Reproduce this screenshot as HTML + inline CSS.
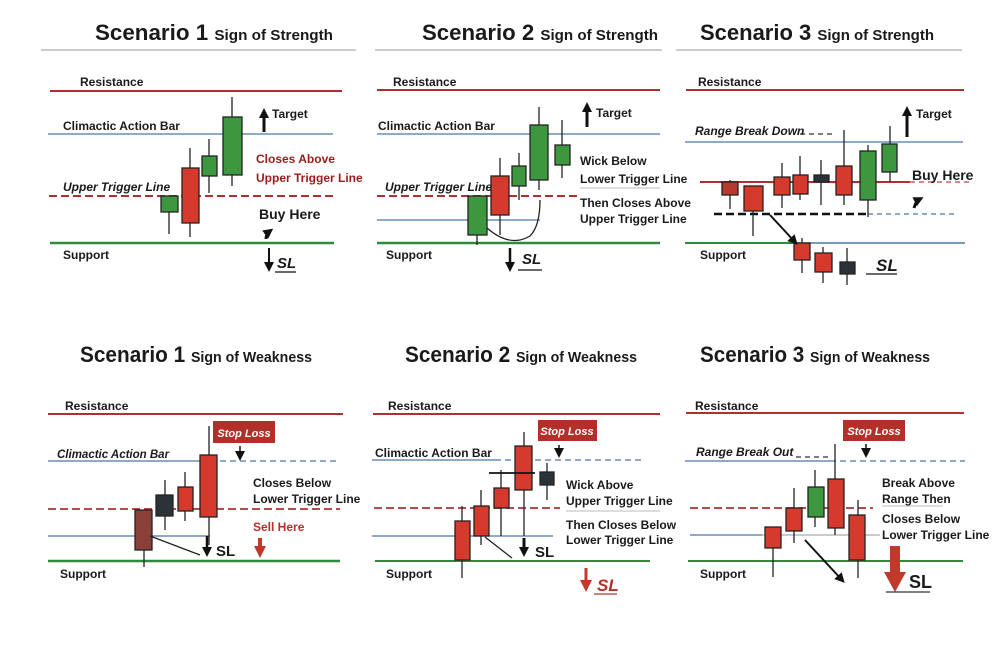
<!DOCTYPE html>
<html><head><meta charset="utf-8"><style>
html,body{margin:0;padding:0;background:#fff;}
svg{display:block;font-family:"Liberation Sans",sans-serif;}
.t{font-size:12px;fill:#1a1a1a;font-weight:bold;}
.ti{font-size:12px;fill:#1a1a1a;font-weight:bold;font-style:italic;}
.h1{font-size:22px;font-weight:bold;fill:#1a1a1a;}
.h2{font-size:15px;font-weight:bold;fill:#1a1a1a;}
</style></head><body>
<svg width="1005" height="670" viewBox="0 0 1005 670">
<defs>
<marker id="ab" markerUnits="userSpaceOnUse" markerWidth="10" markerHeight="10" refX="6" refY="5" orient="auto"><path d="M0,0 L10,5 L0,10 z" fill="#111"/></marker>
<marker id="ar" markerUnits="userSpaceOnUse" markerWidth="12" markerHeight="12" refX="6" refY="6" orient="auto"><path d="M0,0 L12,6 L0,12 z" fill="#c0392b"/></marker>
</defs>
<!-- ===== Panel 1 top ===== -->
<text x="95" y="40" class="h1" textLength="238" lengthAdjust="spacingAndGlyphs">Scenario 1 <tspan class="h2">Sign of Strength</tspan></text>
<line x1="41" y1="50" x2="356" y2="50" stroke="#b8bcc2" stroke-width="1.5"/>
<text x="80" y="86" class="t">Resistance</text>
<line x1="50" y1="91" x2="342" y2="91" stroke="#b03030" stroke-width="2"/>
<text x="63" y="130" class="t">Climactic Action Bar</text>
<line x1="48" y1="134" x2="333" y2="134" stroke="#4a78a8" stroke-width="1.3"/>
<text x="63" y="191" class="ti">Upper Trigger Line</text>
<line x1="49" y1="196" x2="334" y2="196" stroke="#b03030" stroke-width="2" stroke-dasharray="8,4"/>
<text x="63" y="259" class="t">Support</text>
<line x1="50" y1="243" x2="334" y2="243" stroke="#2e8b3e" stroke-width="2.5"/>
<g stroke="#222" stroke-width="1.3">
<line x1="169" y1="196" x2="169" y2="234"/><rect x="161" y="196" width="17" height="16" fill="#3d973f"/>
<line x1="190" y1="148" x2="190" y2="237"/><rect x="182" y="168" width="17" height="55" fill="#d63a2c"/>
<line x1="209" y1="139" x2="209" y2="193"/><rect x="202" y="156" width="15" height="20" fill="#3d973f"/>
<line x1="232" y1="97" x2="232" y2="186"/><rect x="223" y="117" width="19" height="58" fill="#3d973f"/>
</g>
<line x1="264" y1="132" x2="264" y2="112" stroke="#111" stroke-width="3" marker-end="url(#ab)"/>
<text x="272" y="118" class="t">Target</text>
<text x="256" y="163" class="t" style="fill:#9b1c1c">Closes Above</text>
<text x="256" y="182" class="t" style="fill:#9b1c1c">Upper Trigger Line</text>
<text x="259" y="219" class="t" style="font-size:14px">Buy Here</text>
<path d="M266,239 Q266,234 270,231" stroke="#111" stroke-width="3" fill="none" marker-end="url(#ab)"/>
<line x1="269" y1="248" x2="269" y2="268" stroke="#111" stroke-width="2" marker-end="url(#ab)"/>
<text x="277" y="268" class="ti" style="font-size:15px">SL</text>
<line x1="275" y1="272" x2="296" y2="272" stroke="#111" stroke-width="1.3"/>

<!-- ===== Panel 2 top ===== -->
<text x="422" y="40" class="h1" textLength="236" lengthAdjust="spacingAndGlyphs">Scenario 2 <tspan class="h2">Sign of Strength</tspan></text>
<line x1="375" y1="50" x2="662" y2="50" stroke="#b8bcc2" stroke-width="1.5"/>
<text x="393" y="86" class="t">Resistance</text>
<line x1="377" y1="90" x2="660" y2="90" stroke="#b03030" stroke-width="2"/>
<text x="378" y="130" class="t">Climactic Action Bar</text>
<line x1="377" y1="134" x2="660" y2="134" stroke="#4a78a8" stroke-width="1.3"/>
<text x="385" y="191" class="ti">Upper Trigger Line</text>
<line x1="377" y1="196" x2="580" y2="196" stroke="#b03030" stroke-width="2" stroke-dasharray="8,4"/>
<line x1="377" y1="220" x2="540" y2="220" stroke="#4a78a8" stroke-width="1.3"/>
<line x1="580" y1="188" x2="660" y2="188" stroke="#bbb" stroke-width="1"/>
<line x1="377" y1="243" x2="660" y2="243" stroke="#2e8b3e" stroke-width="2.5"/>
<text x="386" y="259" class="t">Support</text>
<g stroke="#222" stroke-width="1.3">
<line x1="477" y1="196" x2="477" y2="245"/><rect x="468" y="196" width="19" height="39" fill="#3d973f"/>
<line x1="500" y1="158" x2="500" y2="235"/><rect x="491" y="176" width="18" height="39" fill="#d63a2c"/>
<line x1="519" y1="153" x2="519" y2="200"/><rect x="512" y="166" width="14" height="20" fill="#3d973f"/>
<line x1="539" y1="107" x2="539" y2="190"/><rect x="530" y="125" width="18" height="55" fill="#3d973f"/>
<line x1="562" y1="120" x2="562" y2="178"/><rect x="555" y="145" width="15" height="20" fill="#3d973f"/>
</g>
<path d="M487,228 Q510,248 530,236 Q540,226 540,200" stroke="#222" stroke-width="1.3" fill="none"/>
<line x1="587" y1="127" x2="587" y2="106" stroke="#111" stroke-width="3" marker-end="url(#ab)"/>
<text x="596" y="117" class="t">Target</text>
<text x="580" y="165" class="t">Wick Below</text>
<text x="580" y="183" class="t">Lower Trigger Line</text>
<text x="580" y="207" class="t">Then Closes Above</text>
<text x="580" y="223" class="t">Upper Trigger Line</text>
<line x1="510" y1="248" x2="510" y2="268" stroke="#111" stroke-width="2.5" marker-end="url(#ab)"/>
<text x="522" y="264" class="ti" style="font-size:15px">SL</text>
<line x1="518" y1="270" x2="542" y2="270" stroke="#111" stroke-width="1.3"/>

<!-- ===== Panel 3 top ===== -->
<text x="700" y="40" class="h1" textLength="234" lengthAdjust="spacingAndGlyphs">Scenario 3 <tspan class="h2">Sign of Strength</tspan></text>
<line x1="676" y1="50" x2="962" y2="50" stroke="#b8bcc2" stroke-width="1.5"/>
<text x="698" y="86" class="t">Resistance</text>
<line x1="686" y1="90" x2="964" y2="90" stroke="#b03030" stroke-width="2"/>
<text x="695" y="135" class="ti" style="font-size:12px">Range Break Down</text>
<line x1="800" y1="134" x2="835" y2="134" stroke="#333" stroke-width="1.2" stroke-dasharray="5,4"/>
<line x1="685" y1="142" x2="963" y2="142" stroke="#4a78a8" stroke-width="1.3"/>
<line x1="700" y1="182" x2="910" y2="182" stroke="#b03030" stroke-width="2"/>
<line x1="910" y1="182" x2="970" y2="182" stroke="#d06060" stroke-width="1.5" stroke-dasharray="5,4"/>
<line x1="714" y1="214" x2="868" y2="214" stroke="#111" stroke-width="2.5" stroke-dasharray="8,4"/>
<line x1="868" y1="214" x2="957" y2="214" stroke="#4a78a8" stroke-width="1.2" stroke-dasharray="5,4"/>
<line x1="685" y1="243" x2="795" y2="243" stroke="#2e8b3e" stroke-width="2"/>
<line x1="795" y1="243" x2="965" y2="243" stroke="#4a78a8" stroke-width="1.5"/>
<text x="700" y="259" class="t">Support</text>
<g stroke="#222" stroke-width="1.3">
<line x1="730" y1="180" x2="730" y2="209"/><rect x="722" y="182" width="16" height="13" fill="#b8392f"/>
<line x1="753" y1="186" x2="753" y2="236"/><rect x="744" y="186" width="19" height="25" fill="#d63a2c"/>
<line x1="782" y1="163" x2="782" y2="208"/><rect x="774" y="177" width="16" height="18" fill="#d63a2c"/>
<line x1="800" y1="156" x2="800" y2="200"/><rect x="793" y="175" width="15" height="19" fill="#d63a2c"/>
<line x1="821" y1="160" x2="821" y2="205"/><rect x="814" y="175" width="15" height="7" fill="#2b3238"/>
<line x1="844" y1="130" x2="844" y2="205"/><rect x="836" y="166" width="16" height="29" fill="#d63a2c"/>
<line x1="868" y1="145" x2="868" y2="217"/><rect x="860" y="151" width="16" height="49" fill="#3d973f"/>
<line x1="890" y1="126" x2="890" y2="182"/><rect x="882" y="144" width="15" height="28" fill="#3d973f"/>
<line x1="802" y1="238" x2="802" y2="273"/><rect x="794" y="243" width="16" height="17" fill="#d63a2c"/>
<line x1="823" y1="247" x2="823" y2="283"/><rect x="815" y="253" width="17" height="19" fill="#d63a2c"/>
<line x1="847" y1="248" x2="847" y2="285"/><rect x="840" y="262" width="15" height="12" fill="#2b3238"/>
</g>
<line x1="770" y1="215" x2="795" y2="242" stroke="#111" stroke-width="2" marker-end="url(#ab)"/>
<text x="876" y="271" class="ti" style="font-size:17px">SL</text>
<line x1="866" y1="274" x2="897" y2="274" stroke="#111" stroke-width="1.3"/>
<line x1="907" y1="137" x2="907" y2="110" stroke="#111" stroke-width="3" marker-end="url(#ab)"/>
<text x="916" y="118" class="t">Target</text>
<text x="912" y="180" class="t" style="font-size:14px">Buy Here</text>
<path d="M914,208 Q916,201 920,199" stroke="#111" stroke-width="3" fill="none" marker-end="url(#ab)"/>

<!-- ===== Panel 1 bottom ===== -->
<text x="80" y="362" class="h1" textLength="232" lengthAdjust="spacingAndGlyphs">Scenario 1 <tspan class="h2">Sign of Weakness</tspan></text>
<text x="65" y="410" class="t">Resistance</text>
<line x1="48" y1="414" x2="343" y2="414" stroke="#b03030" stroke-width="2"/>
<text x="57" y="458" class="ti" style="font-size:11.5px">Climactic Action Bar</text>
<line x1="48" y1="461" x2="200" y2="461" stroke="#4a78a8" stroke-width="1.3"/>
<line x1="200" y1="461" x2="340" y2="461" stroke="#4a78a8" stroke-width="1.3" stroke-dasharray="6,4"/>
<line x1="48" y1="509" x2="340" y2="509" stroke="#b03030" stroke-width="1.8" stroke-dasharray="8,4"/>
<line x1="48" y1="536" x2="210" y2="536" stroke="#4a78a8" stroke-width="1.3"/>
<line x1="48" y1="561" x2="340" y2="561" stroke="#2e8b3e" stroke-width="2.5"/>
<text x="60" y="578" class="t">Support</text>
<g stroke="#222" stroke-width="1.3">
<line x1="144" y1="510" x2="144" y2="567"/><rect x="135" y="510" width="17" height="40" fill="#8a4038"/>
<line x1="165" y1="480" x2="165" y2="530"/><rect x="156" y="495" width="17" height="21" fill="#2b3238"/>
<line x1="185" y1="472" x2="185" y2="521"/><rect x="178" y="487" width="15" height="24" fill="#d63a2c"/>
<line x1="209" y1="426" x2="209" y2="545"/><rect x="200" y="455" width="17" height="62" fill="#d63a2c"/>
<line x1="150" y1="536" x2="200" y2="555"/>
</g>
<rect x="213" y="421" width="62" height="22" fill="#b3302a"/>
<text x="244" y="437" text-anchor="middle" class="ti" style="fill:#fff;font-size:11px">Stop Loss</text>
<line x1="240" y1="446" x2="240" y2="457" stroke="#111" stroke-width="1.5" marker-end="url(#ab)"/>
<text x="253" y="487" class="t">Closes Below</text>
<text x="253" y="503" class="t">Lower Trigger Line</text>
<text x="253" y="531" class="t" style="fill:#b3302a">Sell Here</text>
<line x1="260" y1="538" x2="260" y2="552" stroke="#c0392b" stroke-width="4" marker-end="url(#ar)"/>
<line x1="207" y1="536" x2="207" y2="553" stroke="#111" stroke-width="2.5" marker-end="url(#ab)"/>
<text x="216" y="556" class="t" style="font-size:15px">SL</text>

<!-- ===== Panel 2 bottom ===== -->
<text x="405" y="362" class="h1" textLength="232" lengthAdjust="spacingAndGlyphs">Scenario 2 <tspan class="h2">Sign of Weakness</tspan></text>
<text x="388" y="410" class="t">Resistance</text>
<line x1="373" y1="414" x2="660" y2="414" stroke="#b03030" stroke-width="2"/>
<text x="375" y="457" class="t">Climactic Action Bar</text>
<line x1="372" y1="460" x2="495" y2="460" stroke="#4a78a8" stroke-width="1.3"/>
<line x1="495" y1="460" x2="645" y2="460" stroke="#4a78a8" stroke-width="1.3" stroke-dasharray="6,4"/>
<line x1="374" y1="508" x2="560" y2="508" stroke="#b03030" stroke-width="1.8" stroke-dasharray="8,4"/>
<line x1="566" y1="511" x2="660" y2="511" stroke="#bbb" stroke-width="1"/>
<line x1="372" y1="536" x2="553" y2="536" stroke="#4a78a8" stroke-width="1.3"/>
<line x1="375" y1="561" x2="650" y2="561" stroke="#2e8b3e" stroke-width="2"/>
<text x="386" y="578" class="t">Support</text>
<g stroke="#222" stroke-width="1.3">
<line x1="462" y1="506" x2="462" y2="578"/><rect x="455" y="521" width="15" height="39" fill="#d63a2c"/>
<line x1="481" y1="490" x2="481" y2="545"/><rect x="474" y="506" width="15" height="30" fill="#d63a2c"/>
<line x1="501" y1="470" x2="501" y2="536"/><rect x="494" y="488" width="15" height="20" fill="#d63a2c"/>
<line x1="524" y1="432" x2="524" y2="536"/><rect x="515" y="446" width="17" height="44" fill="#d63a2c"/>
<line x1="547" y1="463" x2="547" y2="500"/><rect x="540" y="472" width="14" height="13" fill="#2b3238"/>
<line x1="489" y1="473" x2="535" y2="473" stroke="#111" stroke-width="1.8"/>
<line x1="485" y1="537" x2="512" y2="558"/>
</g>
<rect x="538" y="420" width="59" height="21" fill="#b3302a"/>
<text x="567" y="435" text-anchor="middle" class="ti" style="fill:#fff;font-size:11px">Stop Loss</text>
<line x1="559" y1="445" x2="559" y2="454" stroke="#111" stroke-width="1.5" marker-end="url(#ab)"/>
<text x="566" y="489" class="t">Wick Above</text>
<text x="566" y="505" class="t">Upper Trigger Line</text>
<text x="566" y="529" class="t">Then Closes Below</text>
<text x="566" y="544" class="t">Lower Trigger Line</text>
<line x1="524" y1="538" x2="524" y2="553" stroke="#111" stroke-width="3" marker-end="url(#ab)"/>
<text x="535" y="557" class="t" style="font-size:15px">SL</text>
<line x1="586" y1="568" x2="586" y2="586" stroke="#c0392b" stroke-width="3" marker-end="url(#ar)"/>
<text x="597" y="591" class="ti" style="font-size:17px;fill:#b3302a">SL</text>
<line x1="594" y1="594" x2="617" y2="594" stroke="#b3302a" stroke-width="1.3"/>

<!-- ===== Panel 3 bottom ===== -->
<text x="700" y="362" class="h1" textLength="230" lengthAdjust="spacingAndGlyphs">Scenario 3 <tspan class="h2">Sign of Weakness</tspan></text>
<text x="695" y="410" class="t">Resistance</text>
<line x1="686" y1="413" x2="964" y2="413" stroke="#b03030" stroke-width="2"/>
<text x="696" y="456" class="ti" style="font-size:12px">Range Break Out</text>
<line x1="796" y1="457" x2="830" y2="457" stroke="#333" stroke-width="1.2" stroke-dasharray="5,4"/>
<line x1="685" y1="461" x2="830" y2="461" stroke="#4a78a8" stroke-width="1.3"/>
<line x1="830" y1="461" x2="965" y2="461" stroke="#4a78a8" stroke-width="1.3" stroke-dasharray="6,4"/>
<line x1="690" y1="508" x2="873" y2="508" stroke="#b03030" stroke-width="1.8" stroke-dasharray="8,4"/>
<line x1="882" y1="506" x2="943" y2="506" stroke="#bbb" stroke-width="1"/>
<line x1="690" y1="535" x2="762" y2="535" stroke="#4a78a8" stroke-width="1.3"/>
<line x1="762" y1="535" x2="880" y2="535" stroke="#aaa" stroke-width="1.3"/>
<line x1="688" y1="561" x2="963" y2="561" stroke="#2e8b3e" stroke-width="2"/>
<text x="700" y="578" class="t">Support</text>
<g stroke="#222" stroke-width="1.3">
<line x1="773" y1="527" x2="773" y2="577"/><rect x="765" y="527" width="16" height="21" fill="#d63a2c"/>
<line x1="794" y1="488" x2="794" y2="543"/><rect x="786" y="508" width="16" height="23" fill="#d63a2c"/>
<line x1="815" y1="470" x2="815" y2="527"/><rect x="808" y="487" width="16" height="30" fill="#3d973f"/>
<line x1="835" y1="444" x2="835" y2="535"/><rect x="828" y="479" width="16" height="49" fill="#d63a2c"/>
<line x1="858" y1="500" x2="858" y2="578"/><rect x="849" y="515" width="16" height="45" fill="#d63a2c"/>
</g>
<line x1="805" y1="540" x2="842" y2="580" stroke="#111" stroke-width="2" marker-end="url(#ab)"/>
<rect x="843" y="420" width="62" height="21" fill="#b3302a"/>
<text x="874" y="435" text-anchor="middle" class="ti" style="fill:#fff;font-size:11px">Stop Loss</text>
<line x1="866" y1="444" x2="866" y2="454" stroke="#111" stroke-width="1.5" marker-end="url(#ab)"/>
<text x="882" y="487" class="t">Break Above</text>
<text x="882" y="503" class="t">Range Then</text>
<text x="882" y="523" class="t">Closes Below</text>
<text x="882" y="539" class="t">Lower Trigger Line</text>
<polygon points="890,546 900,546 900,572 906,572 895,592 884,572 890,572" fill="#c0392b"/>
<text x="909" y="588" class="t" style="font-size:18px">SL</text>
<line x1="886" y1="592" x2="930" y2="592" stroke="#333" stroke-width="1.3"/>
</svg>
</body></html>
